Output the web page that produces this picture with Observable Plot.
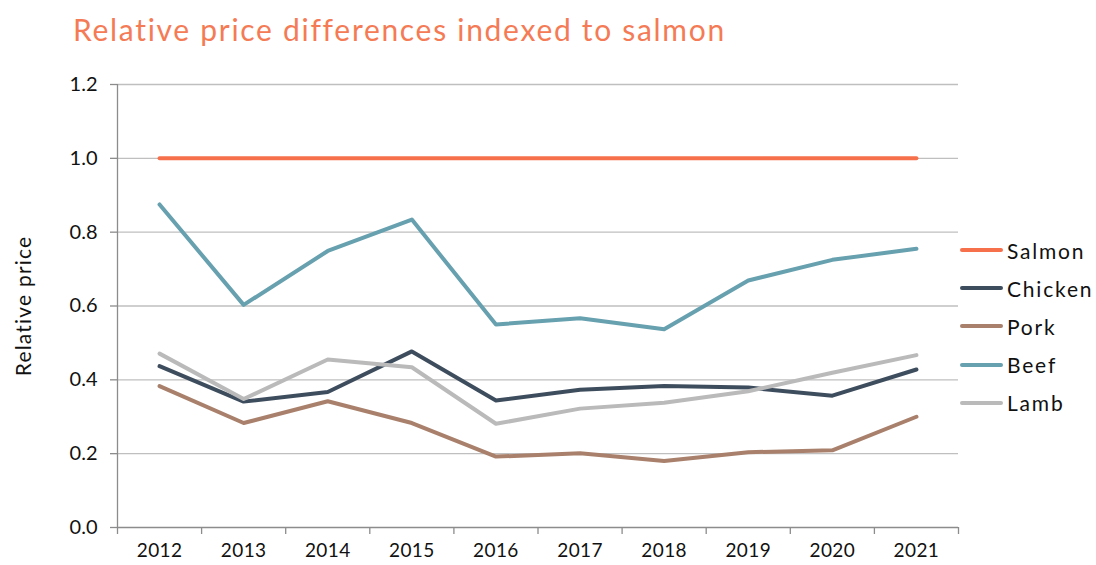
<!DOCTYPE html>
<html>
<head>
<meta charset="utf-8">
<script src="https://cdn.jsdelivr.net/npm/d3@7"></script>
<script src="https://cdn.jsdelivr.net/npm/@observablehq/plot@0.6"></script>
<style>
  html, body { margin: 0; padding: 0; background: #ffffff; }
  #wrap { position: relative; width: 1096px; height: 565px; font-family: "Lato", "DejaVu Sans", sans-serif; }
  #title { position: absolute; left: 73px; top: 11px; font-size: 30px; color: #F47B55; white-space: nowrap; letter-spacing: 1.7px; }
  #legend { position: absolute; left: 960px; top: 231px; }
  .li { display: flex; align-items: center; height: 38.2px; font-size: 21px; color: #111; letter-spacing: 1.8px; }
  .sw { width: 43px; height: 4px; border-radius: 2px; margin-right: 4px; }
  #chart svg { position: absolute; left: 0; top: 0; }
</style>
</head>
<body>
<div id="wrap">
  <div id="title">Relative price differences indexed to salmon</div>
  <div id="chart"></div>
  <div id="legend"></div>
</div>
<script>
const years = [2012, 2013, 2014, 2015, 2016, 2017, 2018, 2019, 2020, 2021];
const seriesNames = ["Salmon", "Chicken", "Pork", "Beef", "Lamb"];
const seriesColors = ["#F7704C", "#3E4D5E", "#A9806B", "#67A0AF", "#BABABA"];
const salmon  = [1.0, 1.0, 1.0, 1.0, 1.0, 1.0, 1.0, 1.0, 1.0, 1.0];
const chicken = [0.437, 0.341, 0.367, 0.477, 0.344, 0.373, 0.383, 0.379, 0.357, 0.428];
const pork    = [0.383, 0.283, 0.342, 0.283, 0.192, 0.201, 0.180, 0.204, 0.209, 0.300];
const beef    = [0.875, 0.603, 0.749, 0.834, 0.550, 0.567, 0.537, 0.669, 0.725, 0.755];
const lamb    = [0.471, 0.348, 0.455, 0.434, 0.281, 0.322, 0.338, 0.369, 0.419, 0.467];
const yTicks = [0, 0.2, 0.4, 0.6, 0.8, 1.0, 1.2];

const seriesValues = [salmon, chicken, pork, beef, lamb];
const data = [];
seriesNames.forEach((name, i) => {
  years.forEach((yr, j) => data.push({series: name, year: yr, value: seriesValues[i][j]}));
});
const boundaries = years.map(y => y - 0.5).concat([years[years.length - 1] + 0.5]);

const plot = Plot.plot({
  width: 1096,
  height: 565,
  marginLeft: 117,
  marginRight: 138,
  marginTop: 84,
  marginBottom: 38,
  style: {fontFamily: '"Lato", "DejaVu Sans", sans-serif', background: "transparent", overflow: "visible"},
  x: {type: "linear", domain: [years[0] - 0.5, years[years.length - 1] + 0.5]},
  y: {domain: [0, 1.2]},
  color: {domain: seriesNames, range: seriesColors},
  marks: [
    Plot.gridY(yTicks.filter(t => t > 0), {stroke: "#BFBFBF", strokeOpacity: 1, strokeWidth: 1.3}),
    Plot.axisY({ticks: yTicks, tickSize: 7, tickFormat: d3.format(".1f"), fontSize: 20, fill: "#111", stroke: "#8C8C8C", strokeWidth: 1.3, tickPadding: 13, label: null}),
    Plot.ruleX([years[0] - 0.5], {stroke: "#8C8C8C", strokeWidth: 1.3}),
    Plot.ruleY([0], {stroke: "#8C8C8C", strokeWidth: 1.3}),
    Plot.axisX({ticks: boundaries, tickSize: 7, tickFormat: () => "", stroke: "#8C8C8C", strokeWidth: 1.3, label: null}),
    Plot.axisX({ticks: years, tickSize: 0, tickFormat: d => String(d), fontSize: 19, fill: "#111", tickPadding: 16, label: null}),
    Plot.text(["Relative price"], {frameAnchor: "left", textAnchor: "middle", dx: -93, rotate: -90, fontSize: 21, fill: "#111"}),
    Plot.line(data, {x: "year", y: "value", z: "series", stroke: "series", strokeWidth: 4, strokeLinecap: "round", strokeLinejoin: "round"})
  ]
});
document.getElementById("chart").appendChild(plot);
d3.select(plot).selectAll("g[aria-label='text'] text").style("letter-spacing", "1.2px");
d3.select(plot).selectAll("g[aria-label='x-axis tick label'] text").style("letter-spacing", "0.4px");

const legend = document.getElementById("legend");
seriesNames.forEach((name, i) => {
  const row = document.createElement("div");
  row.className = "li";
  const sw = document.createElement("div");
  sw.className = "sw";
  sw.style.background = seriesColors[i];
  const t = document.createElement("span");
  t.textContent = name;
  row.appendChild(sw);
  row.appendChild(t);
  legend.appendChild(row);
});
</script>
</body>
</html>
